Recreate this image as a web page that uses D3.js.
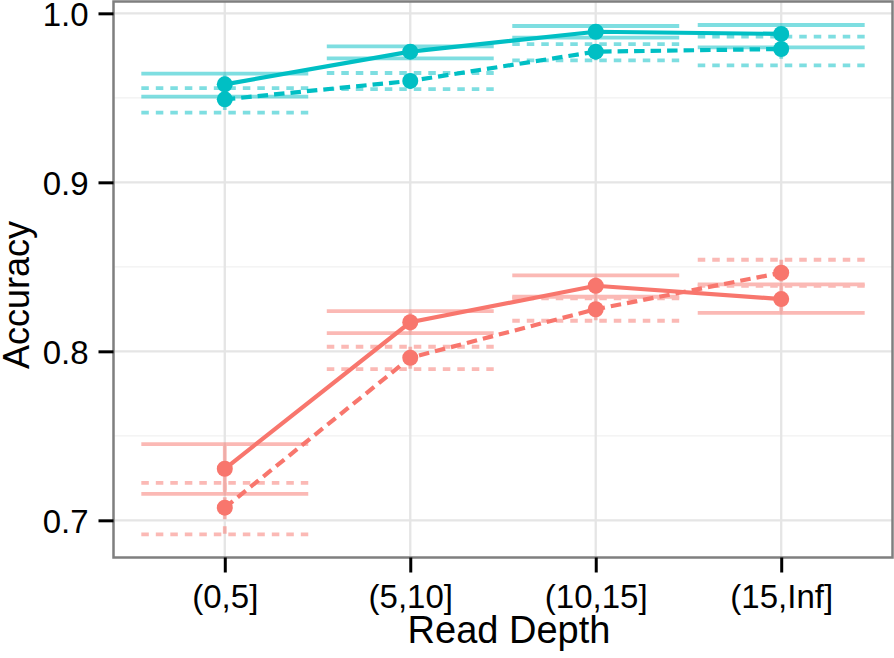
<!DOCTYPE html>
<html>
<head>
<meta charset="utf-8">
<script src="https://cdn.jsdelivr.net/npm/d3@7"></script>
<style>
  html, body { margin: 0; padding: 0; background: #fff; }
  svg { display: block; font-family: "Liberation Sans", Arial, Helvetica, sans-serif; }
</style>
</head>
<body>
<svg id="chart" width="894" height="658"></svg>
<script>
// ---- data ----
const categories = ["(0,5]", "(5,10]", "(10,15]", "(15,Inf]"];
const yTicks = [0.7, 0.8, 0.9, 1.0];
const yMinorTicks = [0.75, 0.85, 0.95];

const salmonSolid    = [0.7305, 0.8172, 0.8388, 0.8309];
const salmonSolidLo  = [0.7156, 0.8108, 0.8323, 0.8228];
const salmonSolidHi  = [0.7451, 0.8238, 0.8450, 0.8396];
const salmonDashed   = [0.7075, 0.7962, 0.8249, 0.8465];
const salmonDashedLo = [0.6917, 0.7895, 0.8181, 0.8388];
const salmonDashedHi = [0.7222, 0.8027, 0.8314, 0.8542];

const tealSolid      = [0.9580, 0.9773, 0.9891, 0.9878];
const tealSolidLo    = [0.9507, 0.9734, 0.9856, 0.9799];
const tealSolidHi    = [0.9643, 0.9805, 0.9925, 0.9931];
const tealDashed     = [0.9491, 0.9600, 0.9773, 0.9789];
const tealDashedLo   = [0.9412, 0.9552, 0.9722, 0.9692];
const tealDashedHi   = [0.9558, 0.9647, 0.9818, 0.9862];

const SALMON = "#F8766D", TEAL = "#00BFC4";

const series = [
  { color: SALMON, dashed: false, v: salmonSolid,  lo: salmonSolidLo,  hi: salmonSolidHi },
  { color: SALMON, dashed: true,  v: salmonDashed, lo: salmonDashedLo, hi: salmonDashedHi },
  { color: TEAL,   dashed: false, v: tealSolid,    lo: tealSolidLo,    hi: tealSolidHi },
  { color: TEAL,   dashed: true,  v: tealDashed,   lo: tealDashedLo,   hi: tealDashedHi }
];

// ---- layout ----
const panel = { left: 113.5, right: 892.5, top: 1.5, bottom: 557.5 };
const svg = d3.select("#chart");

const x = d3.scalePoint().domain(categories).range([panel.left, panel.right]).padding(0.6);
const y = d3.scaleLinear().domain([0.678, 1.007]).range([panel.bottom, panel.top]);
const halfW = x.step() * 0.45;

// background
svg.append("rect").attr("width", 894).attr("height", 658).attr("fill", "#fff");

const grid = svg.append("g");
grid.selectAll("line.minor").data(yMinorTicks).enter().append("line")
  .attr("x1", panel.left).attr("x2", panel.right)
  .attr("y1", d => y(d)).attr("y2", d => y(d))
  .attr("stroke", "#f1f1f1").attr("stroke-width", 1.2);
grid.selectAll("line.majy").data(yTicks).enter().append("line")
  .attr("x1", panel.left).attr("x2", panel.right)
  .attr("y1", d => y(d)).attr("y2", d => y(d))
  .attr("stroke", "#e5e5e5").attr("stroke-width", 2.3);
grid.selectAll("line.majx").data(categories).enter().append("line")
  .attr("x1", d => x(d)).attr("x2", d => x(d))
  .attr("y1", panel.top).attr("y2", panel.bottom)
  .attr("stroke", "#e5e5e5").attr("stroke-width", 2.3);

// error bars
const eb = svg.append("g").attr("opacity", 0.5);
series.forEach(s => {
  const dash = s.dashed ? "7.5,7" : null;
  categories.forEach((c, i) => {
    const cx = x(c);
    [s.hi[i], s.lo[i]].forEach(val => {
      eb.append("line")
        .attr("x1", cx - halfW).attr("x2", cx + halfW)
        .attr("y1", y(val)).attr("y2", y(val))
        .attr("stroke", s.color).attr("stroke-width", 3.8)
        .attr("stroke-dasharray", dash);
    });
    eb.append("line")
      .attr("x1", cx).attr("x2", cx)
      .attr("y1", y(s.hi[i])).attr("y2", y(s.lo[i]))
      .attr("stroke", s.color).attr("stroke-width", 3.8)
      .attr("stroke-dasharray", dash);
  });
});

// lines
const line = d3.line().x((d, i) => x(categories[i])).y(d => y(d));
series.forEach(s => {
  svg.append("path").datum(s.v)
    .attr("d", line).attr("fill", "none")
    .attr("stroke", s.color).attr("stroke-width", 4.2)
    .attr("stroke-dasharray", s.dashed ? "10.5,6" : null);
});

// points
series.forEach(s => {
  svg.append("g").selectAll("circle").data(s.v).enter().append("circle")
    .attr("cx", (d, i) => x(categories[i])).attr("cy", d => y(d))
    .attr("r", 8).attr("fill", s.color);
});

// panel border
svg.append("rect")
  .attr("x", panel.left).attr("y", panel.top)
  .attr("width", panel.right - panel.left).attr("height", panel.bottom - panel.top)
  .attr("fill", "none").attr("stroke", "#7f7f7f").attr("stroke-width", 2.5);

// axes
const yAxis = svg.append("g").attr("transform", `translate(${panel.left},0)`)
  .call(d3.axisLeft(y).tickValues(yTicks).tickFormat(d3.format(".1f")).tickSize(15).tickPadding(10));
yAxis.select(".domain").remove();
yAxis.selectAll(".tick line").attr("stroke", "#000").attr("stroke-width", 3);
yAxis.selectAll(".tick text").attr("font-size", 33).attr("fill", "#000").attr("dy", "0.38em")
  .attr("font-family", "Liberation Sans, Arial, sans-serif");

const xAxis = svg.append("g").attr("transform", `translate(0,${panel.bottom})`)
  .call(d3.axisBottom(x).tickSize(15));
xAxis.select(".domain").remove();
xAxis.selectAll(".tick line").attr("stroke", "#000").attr("stroke-width", 3);
xAxis.selectAll(".tick text").attr("font-size", 33).attr("fill", "#000")
  .attr("y", 50).attr("dy", 0)
  .attr("font-family", "Liberation Sans, Arial, sans-serif");

// axis titles
svg.append("text").attr("x", 509).attr("y", 643).attr("text-anchor", "middle")
  .attr("font-size", 38).attr("fill", "#000").text("Read Depth");
svg.append("text").attr("transform", "translate(29,295) rotate(-90)").attr("text-anchor", "middle")
  .attr("font-size", 36).attr("fill", "#000").text("Accuracy");
</script>
</body>
</html>
